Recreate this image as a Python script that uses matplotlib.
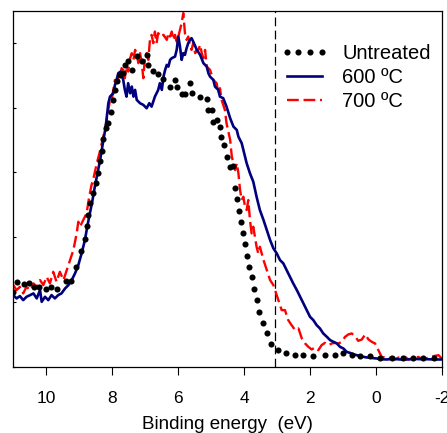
import matplotlib
matplotlib.use("Agg")
import matplotlib.pyplot as plt

plt.rcParams['font.family'] = ['Liberation Sans', 'DejaVu Sans']

# Binding energy (eV) and intensity (arb. units)
untreated_x = [10.99, 10.87, 10.67, 10.52, 10.36, 10.21, 10.01, 9.86, 9.68, 9.40, 9.25, 9.09,
               8.94, 8.82, 8.77, 8.72, 8.67, 8.57, 8.48, 8.41, 8.36, 8.31, 8.26, 8.18, 8.12,
               8.04, 7.98, 7.91, 7.86, 7.76, 7.68, 7.61, 7.51, 7.40, 7.25, 7.10, 6.95, 6.90,
               6.75, 6.60, 6.44, 6.24, 6.09, 6.04, 5.89, 5.79, 5.64, 5.59, 5.33, 5.13, 5.08,
               4.98, 4.93, 4.83, 4.73, 4.71, 4.61, 4.51, 4.44, 4.34, 4.27, 4.20, 4.14, 4.10,
               4.02, 3.97, 3.90, 3.84, 3.77, 3.70, 3.62, 3.54, 3.43, 3.31, 3.19, 2.96, 2.73,
               2.45, 2.20, 1.90, 1.55, 1.24, 0.99, 0.74, 0.48, 0.18, -0.12, -0.47, -0.83,
               -1.13, -1.43, -1.74]
untreated_y = [74.7, 85.3, 82.7, 84.0, 80.3, 80.3, 77.7, 80.3, 77.7, 86.3, 86.3, 99.7,
               116.3, 128.0, 141.3, 152.0, 163.7, 173.7, 183.7, 193.7, 206.0, 216.0, 227.7,
               238.7, 244.3, 254.7, 267.0, 277.0, 286.3, 292.0, 293.7, 302.0, 306.3, 297.0,
               311.0, 306.3, 312.0, 302.0, 296.0, 292.7, 287.7, 279.7, 287.0, 279.7, 273.0,
               273.0, 283.7, 273.7, 270.3, 268.0, 257.0, 257.0, 245.3, 247.0, 240.3, 230.3,
               222.0, 210.3, 200.3, 201.3, 178.7, 167.7, 156.3, 145.3, 133.7, 122.7, 111.0,
               100.3, 89.7, 78.0, 67.0, 55.3, 44.3, 33.7, 22.7, 17.0, 13.7, 12.3, 12.3, 11.0,
               12.3, 12.3, 13.7, 12.3, 11.0, 11.0, 8.7, 8.7, 8.7, 8.7, 8.7, 8.7]

t600_x = [10.99, 10.89, 10.79, 10.69, 10.59, 10.48, 10.38, 10.28, 10.18, 10.13, 10.03, 9.93,
          9.83, 9.73, 9.63, 9.53, 9.42, 9.32, 9.22, 9.12, 9.02, 8.92, 8.82, 8.75, 8.67, 8.59,
          8.52, 8.44, 8.36, 8.31, 8.26, 8.19, 8.11, 8.06, 7.96, 7.91, 7.86, 7.81, 7.74, 7.66,
          7.61, 7.56, 7.51, 7.45, 7.40, 7.35, 7.30, 7.25, 7.15, 7.05, 6.95, 6.87, 6.80, 6.70,
          6.60, 6.55, 6.49, 6.44, 6.39, 6.34, 6.29, 6.24, 6.19, 6.09, 6.04, 5.99, 5.94, 5.89,
          5.84, 5.79, 5.74, 5.69, 5.64, 5.59, 5.54, 5.43, 5.33, 5.23, 5.13, 5.08, 5.03, 4.93,
          4.88, 4.78, 4.73, 4.63, 4.53, 4.42, 4.32, 4.22, 4.17, 4.07, 3.97, 3.92, 3.82, 3.72,
          3.62, 3.52, 3.41, 3.31, 3.21, 3.11, 3.01, 2.91, 2.81, 2.71, 2.61, 2.51, 2.40, 2.30,
          2.20, 2.10, 2.00, 1.90, 1.80, 1.70, 1.60, 1.49, 1.39, 1.29, 1.19, 1.09, 0.99, 0.89,
          0.79, 0.69, 0.59, 0.48, 0.38, 0.28, 0.18, 0.08, -0.02, -0.12, -0.32, -0.53, -0.73,
          -0.93, -1.13, -1.33, -1.54, -1.74, -1.99]
t600_y = [72.0, 68.7, 71.0, 67.0, 70.3, 72.0, 73.7, 68.7, 77.0, 65.3, 70.3, 67.0, 72.0, 68.7,
          72.0, 73.7, 78.7, 82.0, 87.0, 93.7, 102.0, 113.7, 127.0, 140.3, 153.7, 167.0, 180.3,
          193.7, 207.0, 217.0, 227.0, 240.3, 263.7, 270.3, 273.7, 282.0, 287.0, 293.7, 295.3,
          287.0, 277.0, 270.3, 283.7, 273.7, 280.3, 270.3, 277.0, 267.0, 263.7, 262.0, 258.7,
          263.7, 260.3, 270.3, 277.0, 283.7, 277.0, 290.3, 297.0, 302.0, 300.3, 307.0, 308.7,
          310.3, 317.0, 330.3, 320.3, 307.0, 313.7, 312.0, 318.7, 323.7, 327.0, 328.7, 325.3,
          317.0, 312.0, 303.7, 300.3, 293.7, 290.3, 287.0, 280.3, 277.0, 270.3, 268.7, 260.3,
          248.7, 240.3, 237.0, 230.3, 223.7, 210.3, 203.7, 193.7, 185.3, 170.3, 157.0, 147.0,
          137.0, 127.0, 118.7, 113.7, 107.0, 103.7, 97.0, 90.3, 83.7, 77.0, 70.3, 63.7, 57.0,
          50.3, 47.0, 42.0, 38.7, 33.7, 30.3, 27.0, 25.3, 23.7, 20.3, 18.7, 15.3, 14.3, 13.0,
          12.0, 11.0, 10.3, 9.7, 9.7, 9.0, 8.7, 8.0, 7.7, 8.3, 7.7, 7.7, 8.3, 8.0, 8.0, 7.7, 7.7]

t700_x = [10.99, 10.89, 10.79, 10.69, 10.59, 10.48, 10.38, 10.28, 10.18, 10.08, 9.98, 9.88,
          9.78, 9.68, 9.58, 9.47, 9.37, 9.27, 9.17, 9.07, 9.02, 8.97, 8.87, 8.77, 8.69, 8.62,
          8.55, 8.46, 8.38, 8.31, 8.24, 8.16, 8.11, 8.06, 8.01, 7.96, 7.91, 7.86, 7.81, 7.76,
          7.71, 7.66, 7.61, 7.56, 7.51, 7.45, 7.40, 7.35, 7.30, 7.25, 7.20, 7.15, 7.10, 7.05,
          7.00, 6.95, 6.90, 6.85, 6.80, 6.75, 6.70, 6.65, 6.60, 6.55, 6.44, 6.34, 6.29, 6.24,
          6.19, 6.14, 6.09, 6.04, 5.99, 5.94, 5.89, 5.84, 5.79, 5.74, 5.69, 5.64, 5.59, 5.54,
          5.48, 5.43, 5.38, 5.33, 5.28, 5.23, 5.18, 5.13, 5.03, 4.93, 4.83, 4.78, 4.73, 4.68,
          4.58, 4.53, 4.42, 4.37, 4.32, 4.27, 4.22, 4.17, 4.12, 4.07, 4.02, 3.97, 3.92, 3.87,
          3.82, 3.77, 3.72, 3.67, 3.62, 3.57, 3.52, 3.41, 3.31, 3.21, 3.11, 3.06, 2.96, 2.86,
          2.76, 2.66, 2.56, 2.45, 2.35, 2.25, 2.15, 2.05, 1.95, 1.85, 1.75, 1.65, 1.55, 1.44,
          1.34, 1.24, 1.14, 1.04, 0.94, 0.84, 0.74, 0.64, 0.54, 0.43, 0.33, 0.23, 0.13, 0.03,
          -0.07, -0.17, -0.27, -0.37, -0.47, -0.58, -0.68, -0.78, -0.88, -0.98, -1.13, -1.28,
          -1.43, -1.59, -1.74, -1.89, -1.99]
t700_y = [82.0, 77.0, 80.3, 73.7, 80.3, 77.0, 83.7, 80.3, 87.0, 82.0, 90.3, 83.7, 95.3, 85.3,
          95.3, 87.0, 97.0, 107.0, 117.0, 133.7, 145.3, 140.3, 147.0, 153.7, 170.3, 182.0,
          190.3, 203.7, 213.7, 223.7, 233.7, 247.0, 257.0, 267.0, 267.0, 277.0, 287.0, 283.7,
          290.3, 288.7, 298.7, 297.0, 288.7, 302.0, 295.3, 308.7, 313.7, 307.0, 317.0, 312.0,
          303.7, 313.7, 303.7, 288.7, 310.3, 313.7, 307.0, 327.0, 332.0, 323.7, 335.3, 323.7,
          333.7, 330.3, 332.0, 327.0, 333.7, 330.3, 335.3, 327.0, 332.0, 325.3, 330.3, 337.0,
          343.7, 353.7, 333.7, 327.0, 330.3, 322.0, 317.0, 323.7, 313.7, 317.0, 317.0, 322.0,
          313.7, 308.7, 317.0, 300.3, 297.0, 287.0, 283.7, 273.7, 278.7, 267.0, 257.0, 243.7,
          227.0, 210.3, 203.7, 197.0, 203.7, 193.7, 177.0, 167.0, 170.3, 160.3, 157.0, 167.0,
          147.0, 133.7, 140.3, 130.3, 120.3, 113.7, 120.3, 107.0, 97.0, 87.0, 82.0, 77.0, 67.0,
          57.0, 57.0, 47.0, 42.0, 37.0, 38.7, 28.7, 23.7, 20.3, 17.7, 19.7, 17.0, 22.0, 24.3,
          22.0, 23.7, 24.3, 23.7, 25.3, 30.3, 32.7, 33.7, 31.0, 26.3, 27.7, 32.7, 27.7, 25.3,
          23.7, 17.0, 10.3, 9.7, 8.7, 10.3, 7.7, 9.7, 7.0, 10.3, 7.7, 8.7, 10.3, 7.7, 9.7, 11.0,
          12.0, 8.7]

marker_energy = 3.05
x_ticks = [10, 8, 6, 4, 2, 0, -2]
labels = ["Untreated", "600 ºC", "700 ºC"]

fig = plt.figure(figsize=(4.47, 4.33), dpi=100)
ax = fig.add_axes([0.029, 0.152, 0.960, 0.823])

l700, = ax.plot(t700_x, t700_y, color='#ff0000', lw=1.7, zorder=2)
l700.set_dashes([5.0, 2.0])
l600, = ax.plot(t600_x, t600_y, color='#00007f', lw=1.9, zorder=3)
lun, = ax.plot(untreated_x, untreated_y, linestyle='none', marker='o', ms=4.4,
               color='black', markeredgewidth=0, zorder=4)
ax.axvline(marker_energy, color='black', lw=0.9, dashes=(7, 3.5), zorder=1)

ax.set_xlim(11, -2)
ax.set_ylim(0, 356)
ax.set_xticks(x_ticks)
ax.set_xticklabels([str(t) for t in x_ticks])
ax.set_yticks([0, 65, 130, 195, 259, 324])
ax.set_yticklabels([])
ax.tick_params(axis='x', direction='out', length=6, width=0.8, labelsize=12.5, pad=11)
ax.tick_params(axis='y', direction='in', length=2.5, width=0.8)
for s in ax.spines.values():
    s.set_linewidth(0.9)
ax.set_xlabel("Binding energy  (eV)", fontsize=13.5, labelpad=7)

ax.legend([lun, l600, l700], labels, loc='upper left', bbox_to_anchor=(0.605, 0.93),
          frameon=False, fontsize=14.5, numpoints=4, handlelength=2.35,
          handletextpad=0.7, labelspacing=0.26, borderaxespad=0)

fig.savefig("out.png", dpi=100)
